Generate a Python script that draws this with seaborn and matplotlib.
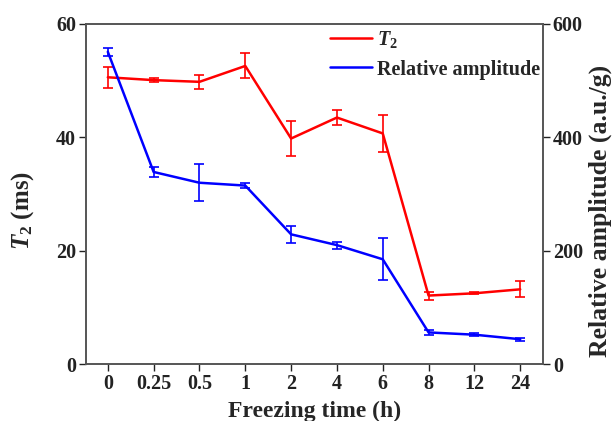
import matplotlib
import matplotlib.pyplot as plt
import seaborn as sns
import pandas as pd
import numpy as np

matplotlib.use("Agg")

TIMES = ["0", "0.25", "0.5", "1", "2", "4", "6", "8", "12", "24"]
T2_MEAN = [50.6, 50.1, 49.8, 52.6, 39.8, 43.5, 40.7, 12.1, 12.5, 13.2]
T2_SD = [1.9, 0.4, 1.2, 2.2, 3.1, 1.4, 3.2, 0.7, 0.2, 1.4]
AMP_MEAN = [551, 339, 320, 315, 229, 210, 185, 56, 52, 44]
AMP_SD = [7, 8, 33, 4, 15, 6, 37, 5, 3, 3]

sns.set_style("ticks")
plt.rcParams["font.family"] = ["Liberation Serif", "DejaVu Serif"]
plt.rcParams["font.weight"] = "bold"
plt.rcParams["mathtext.fontset"] = "custom"
plt.rcParams["mathtext.rm"] = "Liberation Serif:bold"
plt.rcParams["mathtext.it"] = "Liberation Serif:italic:bold"
plt.rcParams["mathtext.bf"] = "Liberation Serif:bold"

df = pd.DataFrame(
    {
        "pos": np.arange(len(TIMES)),
        "T2": T2_MEAN,
        "T2_sd": T2_SD,
        "amp": AMP_MEAN,
        "amp_sd": AMP_SD,
    }
)

fig = plt.figure(figsize=(6.13, 4.21), dpi=100)
ax = fig.add_axes([0.140, 0.135, 0.746, 0.808])
ax2 = ax.twinx()

sns.lineplot(data=df, x="pos", y="T2", ax=ax, color="#ff0000", lw=1.8, label="$T_2$", legend=False)
ax.errorbar(df["pos"], df["T2"], yerr=df["T2_sd"], fmt="none", ecolor="#ff0000",
            elinewidth=1.2, capsize=3.5, capthick=1.2)

sns.lineplot(data=df, x="pos", y="amp", ax=ax2, color="#0000ff", lw=1.8,
             label="Relative amplitude", legend=False)
ax2.errorbar(df["pos"], df["amp"], yerr=df["amp_sd"], fmt="none", ecolor="#0000ff",
             elinewidth=1.2, capsize=3.5, capthick=1.2)

ax.set_xlim(-0.48, 9.5)
ax.set_ylim(0, 60)
ax2.set_ylim(0, 600)
ax.set_yticks([0, 20, 40, 60])
ax2.set_yticks([0, 200, 400, 600])
ax.set_xticks(df["pos"])
ax.set_xticklabels(TIMES)

ax.set_xlabel("Freezing time (h)", fontsize=17, fontweight="bold")
ax.set_ylabel("$T_2$ (ms)", fontsize=18, fontweight="bold")
ax2.set_ylabel("Relative amplitude (a.u./g)", fontsize=18.5, fontweight="bold")
ax.xaxis.set_label_coords(0.5, -0.109)
ax.yaxis.set_label_coords(-0.108, 0.453)
ax2.yaxis.set_label_coords(1.10, 0.449)

for a in (ax, ax2):
    a.tick_params(axis="both", labelsize=14.5, direction="out", length=5, width=1,
                  pad=2, colors="#222222")
    for lab in a.get_xticklabels() + a.get_yticklabels():
        lab.set_fontweight("bold")
    for s in a.spines.values():
        s.set_color("#555555")
        s.set_linewidth(1.2)
        s.set_visible(True)

h1, l1 = ax.get_legend_handles_labels()
h2, l2 = ax2.get_legend_handles_labels()
leg = ax2.legend(h1 + h2, l1 + l2, loc="upper left", bbox_to_anchor=(0.534, 0.984), frameon=False,
                 fontsize=14.5, handlelength=2.07, handletextpad=0.26, labelspacing=0.45,
                 borderaxespad=0, borderpad=0)
for t in leg.get_texts():
    t.set_fontweight("bold")

fig.savefig("out.png", dpi=100)
